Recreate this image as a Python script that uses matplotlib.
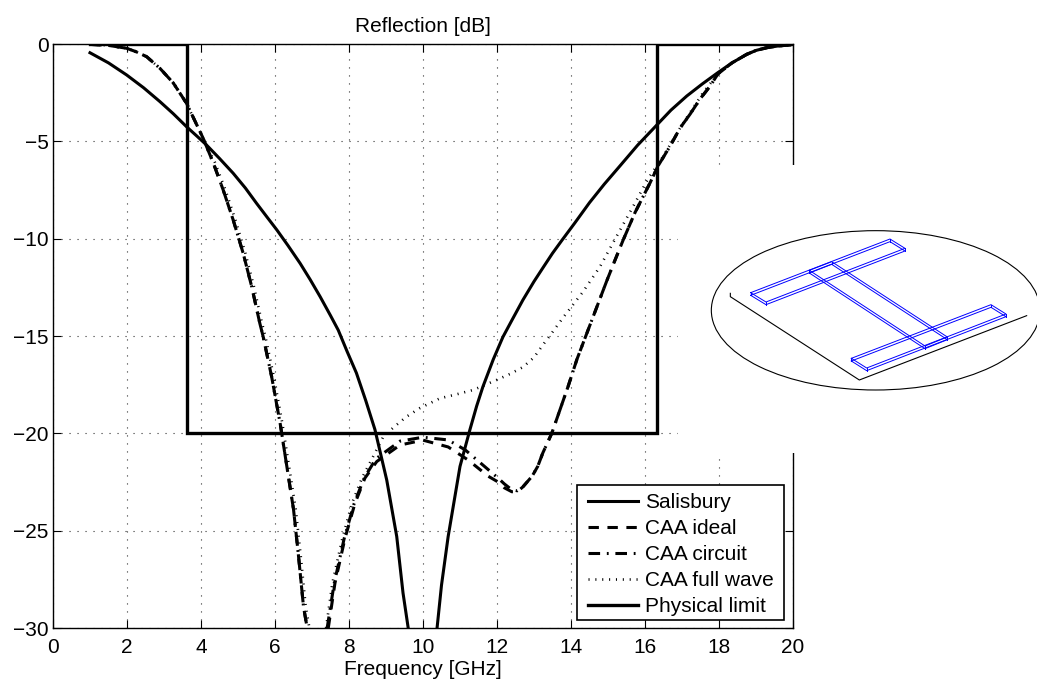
import matplotlib
matplotlib.use('Agg')
import matplotlib.pyplot as plt
from matplotlib.patches import Ellipse, Rectangle

plt.rcParams['font.family'] = ['Liberation Sans', 'DejaVu Sans']
plt.rcParams['font.size'] = 15

# curves
salisbury_x = [1, 1.5, 1.99, 2.45, 2.89, 3.25, 3.61, 3.9, 4.15, 4.5, 4.87, 5.2, 5.5, 5.8, 6.05, 6.35, 6.68, 6.95, 7.22,
               7.5, 7.71, 7.95, 8.2, 8.45, 8.7, 9.02, 9.29, 9.46, 9.6]
salisbury_y = [-0.45, -0.97, -1.59, -2.25, -2.96, -3.58, -4.25, -4.75, -5.19, -5.88, -6.64, -7.4, -8.18, -8.93, -9.55, -10.35, -11.27, -12.1, -12.98,
               -13.95, -14.7, -15.8, -16.9, -18.3, -19.8, -22.4, -25.3, -28.2, -30]
salisbury_x2 = [10.38, 10.5, 10.68, 11, 11.27, 11.45, 11.62, 11.9, 12.16, 12.4, 12.7, 13, 13.24, 13.5, 13.76, 14.1, 14.5, 14.9, 15.32,
                15.8, 16.3, 16.7, 17.13, 17.55, 17.97, 18.35, 18.75, 19, 19.29, 19.6, 19.92, 20]
salisbury_y2 = [-30, -27.8, -25.3, -21.7, -19.8, -18.6, -17.6, -16.2, -15.05, -14.2, -13.15, -12.2, -11.5, -10.75, -10.07, -9.2, -8.15, -7.2, -6.27,
                -5.2, -4.2, -3.4, -2.67, -2.05, -1.47, -0.97, -0.53, -0.33, -0.19, -0.1, -0.05, 0]

fall_x = [1, 1.5, 1.99, 2.25, 2.53, 2.89, 3.25, 3.61, 4.06, 4.33, 4.6, 4.87, 5.14, 5.37, 5.59, 5.68, 5.91, 6.14,
          6.32, 6.5, 6.63, 6.77, 6.87]
fall_y = [-0.02, -0.07, -0.22, -0.4, -0.65, -1.25, -2.0, -3.05, -4.85, -6.1, -7.5, -9.04, -10.75, -12.46, -14.35, -15.03, -17.1, -19.5,
          -21.7, -23.9, -26.2, -28.9, -30]

ideal_x2 = [7.44, 7.62, 7.89, 8.16, 8.43, 8.75, 9.38, 10, 10.68, 11.22, 11.76, 12.03, 12.2, 12.4, 12.55, 12.7, 12.95, 13.1, 13.24,
            13.48, 13.7, 13.92, 14.16, 14.43, 14.7, 14.97, 15.19, 15.41, 15.73, 16.14, 16.35, 16.68, 16.95,
            17.22, 17.49, 17.76, 17.97, 18.35, 18.75, 19, 19.29, 19.6, 19.92, 20]
ideal_y2 = [-30, -27.7, -25.4, -23.6, -22.3, -21.45, -20.6, -20.35, -20.7, -21.37, -22.2, -22.5, -22.8, -23, -23, -22.75, -22.2, -21.7, -21,
            -20, -18.8, -17.6, -16.2, -14.85, -13.5, -12.15, -11.1, -10.07, -8.66, -7.12, -6.27, -5.24, -4.31,
            -3.6, -2.82, -2.16, -1.54, -0.97, -0.53, -0.33, -0.19, -0.1, -0.05, 0]

circuit_x2 = [7.41, 7.6, 7.87, 8.14, 8.41, 8.73, 9.38, 10, 10.68, 11.14, 11.54, 12.03, 12.2, 12.4, 12.55, 12.7, 12.95, 13.1, 13.24,
              13.48, 13.7, 13.92, 14.16, 14.43, 14.7, 14.97, 15.19, 15.41, 15.73, 16.14, 16.35, 16.68, 16.95,
              17.22, 17.49, 17.76, 17.97, 18.35, 18.75, 19, 19.29, 19.6, 19.92, 20]
circuit_y2 = [-30, -27.7, -25.4, -23.6, -22.3, -21.3, -20.4, -20.2, -20.34, -20.85, -21.5, -22.3, -22.6, -22.9, -22.95, -22.75, -22.2, -21.7, -21,
              -20, -18.8, -17.6, -16.2, -14.85, -13.5, -12.15, -11.1, -10.07, -8.66, -7.12, -6.27, -5.24, -4.31,
              -3.6, -2.82, -2.16, -1.54, -0.97, -0.53, -0.33, -0.19, -0.1, -0.05, 0]

fullwave_x = [1, 1.5, 1.99, 2.25, 2.53, 2.89, 3.25, 3.61, 4.06, 4.38, 4.66, 4.93, 5.2, 5.43, 5.65, 5.74, 5.97, 6.2, 6.38,
              6.56, 6.69, 6.83, 6.93]
fullwave_y = [-0.02, -0.07, -0.22, -0.4, -0.65, -1.25, -2.0, -3.05, -4.85, -6.1, -7.5, -9.04, -10.75, -12.46, -14.35, -15.03, -17.1, -19.5, -21.7,
              -23.9, -26.2, -28.9, -30]
fullwave_x2 = [7.38, 7.55, 7.82, 8.08, 8.35, 8.65, 8.92, 9.2, 9.55, 9.92, 10.46, 10.9, 11.36, 12, 12.35, 12.7, 13, 13.24, 13.5, 13.78,
               14.32, 14.78, 15.14, 15.73, 16.08, 16.5, 16.95, 17.57, 17.97, 18.35, 18.75, 19, 19.29, 19.6, 19.92, 20]
fullwave_y2 = [-30, -27.7, -25.4, -23.6, -22.3, -21.2, -20.2, -19.7, -19.15, -18.7, -18.2, -18.0, -17.77, -17.25, -16.95, -16.6, -16.1, -15.46, -14.8, -14.07,
               -12.74, -11.45, -10.2, -8.17, -6.93, -5.75, -4.31, -2.5, -1.54, -0.97, -0.53, -0.33, -0.19, -0.1, -0.05, 0]

limit_x = [1, 3.62, 3.62, 16.33, 16.33, 20]
limit_y = [0, 0, -20, -20, 0, 0]

xticks = list(range(0, 21, 2))
yticks = [0, -5, -10, -15, -20, -25, -30]

# inset sketch, units are 1/3 pixel
ellipse_xy = (557, 451)
ellipse_w = 986
ellipse_h = 478
ground_x = [121, 121, 508, 1010]
ground_y = [400, 410, 660, 467]
bar1_x = [182, 600, 645, 228]
bar1_y = [398, 237, 265, 426]
bar2_x = [484, 903, 948, 530]
bar2_y = [595, 434, 462, 624]
stem_x = [358, 425, 772, 705]
stem_y = [331, 305, 531, 558]
thick = 8

fig = plt.figure(figsize=(10.37, 6.81), dpi=100)
ax = fig.add_axes([53 / 1037, 1 - 628 / 681, 740 / 1037, 584 / 681])

lw = 2.2
dash = (3.4, 2.8)
dashdot = (3.8, 2.2, 0.6, 2.2)
dots = (0.4, 2.2)
ax.plot(salisbury_x, salisbury_y, 'k-', lw=lw, label='Salisbury')
ax.plot(salisbury_x2, salisbury_y2, 'k-', lw=lw)
ax.plot(fall_x, fall_y, 'k', lw=lw, dashes=dash, dash_capstyle='butt', label='CAA ideal')
ax.plot(ideal_x2, ideal_y2, 'k', lw=lw, dashes=dash, dash_capstyle='butt')
ax.plot(fall_x, fall_y, 'k', lw=lw, dashes=dashdot, dash_capstyle='butt', label='CAA circuit')
ax.plot(circuit_x2, circuit_y2, 'k', lw=lw, dashes=dashdot, dash_capstyle='butt')
ax.plot(fullwave_x, fullwave_y, 'k', lw=1.9, dashes=dots, dash_capstyle='butt', label='CAA full wave')
ax.plot(fullwave_x2, fullwave_y2, 'k', lw=1.9, dashes=dots, dash_capstyle='butt')
ax.plot(limit_x, limit_y, 'k-', lw=2.4, solid_joinstyle='miter', label='Physical limit')

ax.set_xlim(0, 20)
ax.set_ylim(-30, 0)
ax.set_xticks(xticks)
ax.set_yticks(yticks)
ax.grid(True, color='#333333', linestyle=(0, (1, 6.2)), linewidth=0.8)
ax.tick_params(direction='in', length=5.5, width=0.8, top=True, right=True, pad=3, labelsize=15)
ax.tick_params(axis='x', pad=7.5)
for s in ax.spines.values():
    s.set_linewidth(1.0)
ax.set_title('Reflection [dB]', fontsize=15, pad=9)
ax.set_xlabel('Frequency [GHz]', fontsize=15, labelpad=2)

# legend box drawn by hand so the entries sit where they do in the original
ax.add_patch(Rectangle(((577 - 53) / 740, (628 - 620) / 584), 207 / 740, 135 / 584, transform=ax.transAxes,
                       fc='w', ec='k', lw=1.2, zorder=4.5))
leg = ax.legend(loc='lower left', bbox_to_anchor=((588 - 53) / 740, (628 - 616.5) / 584), frameon=False,
                borderaxespad=0, borderpad=0, handlelength=2.4, handletextpad=0.33, labelspacing=0.337, fontsize=15)

# white picture over the right of the plot
ins = fig.add_axes([678 / 1037, 1 - 453 / 681, 359 / 1037, 288 / 681], zorder=5)
ins.set_xlim(-36, 1041)
ins.set_ylim(879, 15)
ins.set_xticks([])
ins.set_yticks([])
for s in ins.spines.values():
    s.set_visible(False)
ins.add_patch(Ellipse(ellipse_xy, ellipse_w, ellipse_h, fill=False, ec='k', lw=0.8))
ins.plot(ground_x, ground_y, 'k-', lw=0.8)

for bx, by in [(bar1_x, bar1_y), (bar2_x, bar2_y), (stem_x, stem_y)]:
    ins.plot(bx + bx[:1], by + by[:1], color='#0000ff', lw=0.7)
    low = [v + thick for v in by]
    ins.plot(bx + bx[:1], low + low[:1], color='#0000ff', lw=0.7)
    for px, py in zip(bx, by):
        ins.plot([px, px], [py, py + thick], color='#0000ff', lw=0.7)

fig.savefig('out.png', dpi=100)
